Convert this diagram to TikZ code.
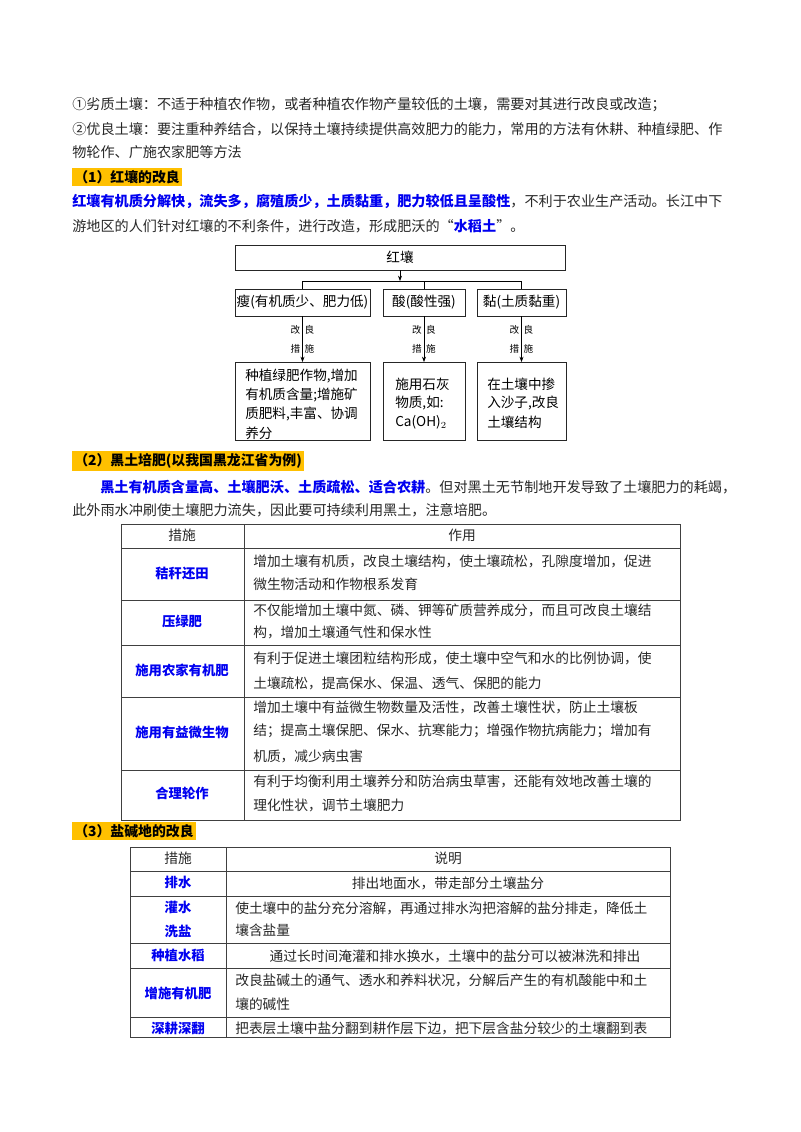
\documentclass[tikz,border=0pt]{standalone}
\usepackage{fontspec}
\setmainfont{Noto Sans CJK SC}
\usetikzlibrary{arrows.meta}
\definecolor{hl}{HTML}{FFC000}
\definecolor{bl}{RGB}{0,0,240}
\definecolor{tx}{RGB}{40,40,40}
\tikzset{
  t/.style={anchor=west,inner sep=0pt,font=\fontsize{10.6pt}{12pt}\selectfont,text=tx},
  tb/.style={anchor=west,inner sep=0pt,font=\fontsize{10.3pt}{12pt}\selectfont,text=tx},
  tc/.style={anchor=center,inner sep=0pt,font=\fontsize{10.3pt}{12pt}\selectfont,text=tx},
  lc/.style={anchor=center,inner sep=0pt,font=\fontsize{10pt}{12pt}\selectfont\bfseries,text=bl},
  head/.style={anchor=west,fill=hl,inner xsep=1.5pt,inner ysep=2pt,font=\fontsize{10.4pt}{12pt}\selectfont\bfseries,text=black},
  dbox/.style={draw=black!85,line width=0.6pt,inner sep=0pt},
  dtxt/.style={anchor=west,inner sep=0pt,font=\fontsize{10.2pt}{12pt}\selectfont,text=black},
  lab/.style={inner sep=0pt,font=\fontsize{7.2pt}{9pt}\selectfont,text=black},
  grid/.style={draw=black!75,line width=0.6pt},
  arr/.style={-{Stealth[length=4pt,width=3pt]},line width=0.5pt}
}
\newcommand{\B}[1]{{\bfseries\color{bl}#1}}
\begin{document}
\begin{tikzpicture}[x=0.75pt,y=-0.75pt]
\useasboundingbox (0,0) rectangle (800,1132);
\fill[white] (0,0) rectangle (800,1132);
% intro
\node[t] at (72,105) {①劣质土壤：不适于种植农作物，或者种植农作物产量较低的土壤，需要对其进行改良或改造；};
\node[t] at (72,129) {②优良土壤：要注重种养结合，以保持土壤持续提供高效肥力的能力，常用的方法有休耕、种植绿肥、作};
\node[t] at (72,152) {物轮作、广施农家肥等方法};
\node[head] (h1) at (72,177) {（1）红壤的改良};
\node[t] at (72,201) {\B{红壤有机质分解快，流失多，腐殖质少，土质黏重，肥力较低且呈酸性}，不利于农业生产活动。长江中下};
\node[t] at (72,226) {游地区的人们针对红壤的不利条件，进行改造，形成肥沃的“\B{水稻土}”。};
% diagram
\draw[dbox] (235,245) rectangle (565,270);
\node[dtxt,anchor=center] (top) at (400,257.5) {红壤};
\draw[dbox] (235,289) rectangle (370,316);
\node[dtxt,anchor=center] (a) at (302.5,302.5) {瘦(有机质少、肥力低)};
\draw[dbox] (383,289) rectangle (465,316);
\node[dtxt,anchor=center] (b) at (424,302.5) {酸(酸性强)};
\draw[dbox] (477,289) rectangle (566,316);
\node[dtxt,anchor=center] (c) at (521.5,302.5) {黏(土质黏重)};
\coordinate (tb) at (400,270);
\coordinate (tj) at (400,281);
\coordinate (ja) at (302.5,281);
\coordinate (jc) at (521.5,281);
\draw[arr] (tb) -- (tj);
\draw[line width=0.5pt] (ja) -- (jc);
\draw[line width=0.5pt] (ja) -- (302.5,289);
\draw[line width=0.5pt] (424,281) -- (424,289);
\draw[line width=0.5pt] (jc) -- (521.5,289);
\draw[dbox] (235,362) rectangle (370,440);
\draw[dbox] (383,362) rectangle (465,440);
\draw[dbox] (477,362) rectangle (566,440);
\coordinate (a1) at (302.5,316); \coordinate (a2) at (302.5,362);
\coordinate (b1) at (424,316); \coordinate (b2) at (424,362);
\coordinate (c1) at (521.5,316); \coordinate (c2) at (521.5,362);
\foreach \p/\q in {a1/a2,b1/b2,c1/c2}{\draw[arr] (\p) -- (\q);}
\foreach \xx in {302.5,424,521.5}{
  \node[lab] at (\xx-7,330) {改};
  \node[lab] at (\xx+7,330) {良};
  \node[lab] at (\xx-7,349) {措};
  \node[lab] at (\xx+7,349) {施};
}
\node[dtxt] (a3) at (245,376) {种植绿肥作物,增加};
\node[dtxt] at (245,395) {有机质含量;增施矿};
\node[dtxt] at (245,414) {质肥料,丰富、协调};
\node[dtxt] at (245,433) {养分};
\node[dtxt] (b3) at (395,384) {施用石灰};
\node[dtxt] at (395,403) {物质,如:};
\node[dtxt] at (395,422) {Ca(OH)$_2$};
\node[dtxt] (c3) at (487,384) {在土壤中掺};
\node[dtxt] at (487,403) {入沙子,改良};
\node[dtxt] at (487,422) {土壤结构};
% section 2
\node[head] (h2) at (72,461) {（2）黑土培肥(以我国黑龙江省为例)};
\node[t] at (100,487) {\B{黑土有机质含量高、土壤肥沃、土质疏松、适合农耕}。但对黑土无节制地开发导致了土壤肥力的耗竭，};
\node[t] at (72,510) {此外雨水冲刷使土壤肥力流失，因此要可持续利用黑土，注意培肥。};
% table 1
\draw[grid] (121,524) rectangle (680,820);
\draw[grid] (244,524) -- (244,820);
\foreach \yy in {548,600,645,697,770}{\draw[grid] (121,\yy) -- (680,\yy);}
\node[tc] at (182,535) {措施};
\node[tc] at (462,535) {作用};
\node[lc] at (182,573) {秸秆还田};
\node[tb] at (253,561) {增加土壤有机质，改良土壤结构，使土壤疏松，孔隙度增加，促进};
\node[tb] at (253,584) {微生物活动和作物根系发育};
\node[lc] at (182,621) {压绿肥};
\node[tb] at (253,610) {不仅能增加土壤中氮、磷、钾等矿质营养成分，而且可改良土壤结};
\node[tb] at (253,632) {构，增加土壤通气性和保水性};
\node[lc] at (182,670) {施用农家有机肥};
\node[tb] at (253,658) {有利于促进土壤团粒结构形成，使土壤中空气和水的比例协调，使};
\node[tb] at (253,683) {土壤疏松，提高保水、保温、透气、保肥的能力};
\node[lc] at (182,732) {施用有益微生物};
\node[tb] at (253,707) {增加土壤中有益微生物数量及活性，改善土壤性状，防止土壤板};
\node[tb] at (253,731) {结；提高土壤保肥、保水、抗寒能力；增强作物抗病能力；增加有};
\node[tb] at (253,756) {机质，减少病虫害};
\node[lc] at (182,793) {合理轮作};
\node[tb] at (253,781) {有利于均衡利用土壤养分和防治病虫草害，还能有效地改善土壤的};
\node[tb] at (253,805) {理化性状，调节土壤肥力};
% section 3
\node[head] (h3) at (72,831) {（3）盐碱地的改良};
\draw[grid] (130,847) rectangle (670,1037);
\draw[grid] (226,847) -- (226,1037);
\foreach \yy in {871,896,943,968,1017}{\draw[grid] (130,\yy) -- (670,\yy);}
\node[tc] at (178,858) {措施};
\node[tc] at (448,858) {说明};
\node[lc] at (178,882) {排水};
\node[tc] at (448,883) {排出地面水，带走部分土壤盐分};
\node[lc] at (178,907) {灌水};
\node[lc] at (178,931) {洗盐};
\node[tb] at (235,908) {使土壤中的盐分充分溶解，再通过排水沟把溶解的盐分排走，降低土};
\node[tb] at (235,930) {壤含盐量};
\node[lc] at (178,955) {种植水稻};
\node[tc] at (455,956) {通过长时间淹灌和排水换水，土壤中的盐分可以被淋洗和排出};
\node[lc] at (178,993) {增施有机肥};
\node[tb] at (235,980) {改良盐碱土的通气、透水和养料状况，分解后产生的有机酸能中和土};
\node[tb] at (235,1004) {壤的碱性};
\node[lc] at (178,1028) {深耕深翻};
\node[tb] at (235,1028) {把表层土壤中盐分翻到耕作层下边，把下层含盐分较少的土壤翻到表};
\end{tikzpicture}
\end{document}
